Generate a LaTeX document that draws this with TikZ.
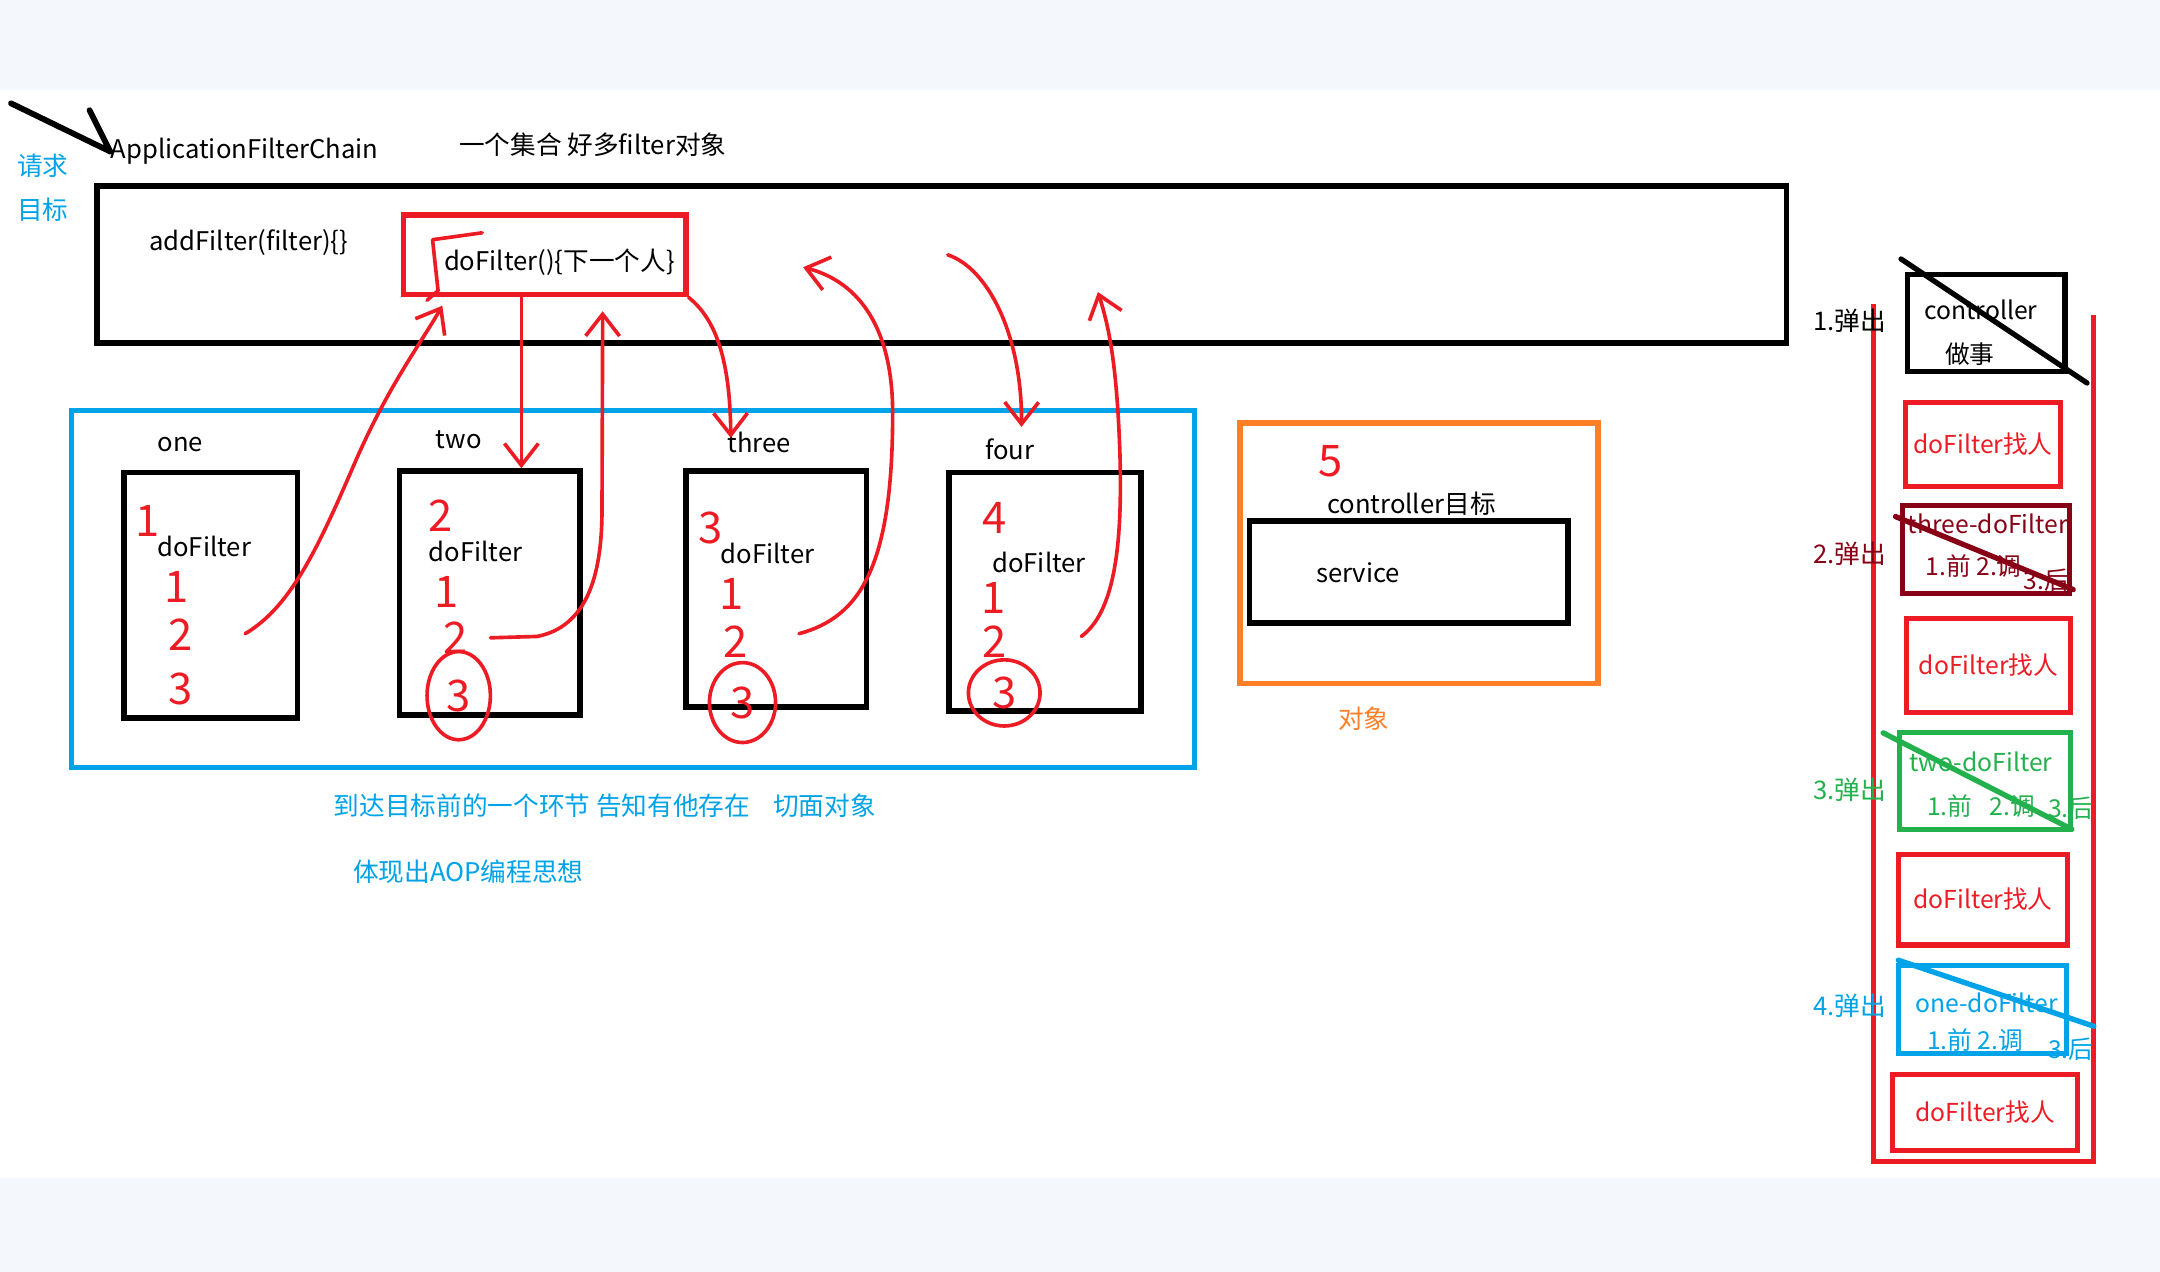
\documentclass[tikz,border=0pt]{standalone}
\usepackage{fontspec}
\setmainfont{Noto Sans CJK SC}
\usetikzlibrary{positioning, arrows.meta, calc}
\definecolor{paintred}{RGB}{237,28,36}
\definecolor{paintblue}{RGB}{0,162,232}
\definecolor{paintorange}{RGB}{255,127,39}
\definecolor{paintgreen}{RGB}{34,177,76}
\definecolor{paintdark}{RGB}{136,0,21}
\definecolor{bandgray}{RGB}{244,247,251}

\begin{document}
\begin{tikzpicture}[x=0.02cm, y=-0.02cm,
    every node/.style={font=\fontsize{10.6}{12}\selectfont, inner sep=0pt},
    blkbox/.style={draw=black, line width=2.4pt},
    stackbox/.style={line width=2.1pt, font=\fontsize{10.2}{12}\selectfont},
    hand/.style={paintred, line width=1.5pt, line cap=round, line join=round},
    handarrow/.style={hand, -{Straight Barb[length=9pt, width=14pt]}},
    handnum/.style={text=paintred, font=\fontsize{18}{18}\selectfont},
    strike/.style={line width=2.2pt, line cap=round}]

    % page bands
    \fill[bandgray] (0,0) rectangle (1568,65);
    \fill[bandgray] (0,855) rectangle (1568,923);
    \useasboundingbox (0,0) rectangle (1568,923);

    % request arrow and titles
    \node[anchor=west] (chainlbl) at (80,110) {ApplicationFilterChain};
    \node[anchor=west] (setlbl) at (333,105) {一个集合 好多filter对象};
    \node[text=paintblue] (reqlbl) at (31,120) {请求};
    \node[text=paintblue] (goallbl) at (31,152) {目标};
    \coordinate (reqstart) at (8,75);
    \coordinate (reqbarb) at (65,80);
    \draw[line width=2.4pt, line cap=round] (reqstart) -- (chainlbl.west) (reqbarb) -- (chainlbl.west);

    % the chain
    \node[blkbox, minimum width=24.54cm, minimum height=2.28cm] (chain) at (683.5,192) {};
    \node[anchor=west] (addlbl) at (108,176) {addFilter(filter)\{\}};
    \node[draw=paintred, line width=2.2pt, minimum width=4.1cm, minimum height=1.16cm] (chainfn) at (395.5,185) {};
    \node[anchor=west] (chainfnlbl) at (322,190) {doFilter()\{下一个人\}};
    \draw[hand] (350,169) -- (314,174) -- (318,211) -- (310,218);

    % filters
    \node[draw=paintblue, line width=2.2pt, minimum width=16.3cm, minimum height=5.18cm] (aop) at (459.5,427.5) {};
    \foreach \name/\cx/\cy/\w/\h in {one/153/432/2.52/3.56, two/355.5/430.5/2.62/3.54,
        three/563.5/427.5/2.62/3.42, four/758.5/429.5/2.78/3.46}
      \node[blkbox, minimum width=\w cm, minimum height=\h cm] (\name) at (\cx,\cy) {};
    \node (onelbl) at (131,323) {one};
    \node (twolbl) at (333,319) {two};
    \node (threelbl) at (551,321) {three};
    \node (fourlbl) at (733,326) {four};
    \node[anchor=west] (onefn) at (114,397) {doFilter};
    \node[anchor=west] (twofn) at (311,400) {doFilter};
    \node[anchor=west] (threefn) at (523,402) {doFilter};
    \node[anchor=west] (fourfn) at (720,408) {doFilter};

    % hand numbers
    \foreach \n/\px/\py [count=\i] in {1/107/378, 1/128/426, 2/131/461, 3/131/500,
        2/320/374, 1/324/430, 2/331/463, 3/333/505,
        3/516/383, 1/531/431, 2/534/466, 3/539/510,
        4/722/376, 1/721/434, 2/722/466, 3/729/503, 5/966/335}
      \node[handnum] (num\i) at (\px,\py) {\n};
    \draw[hand] (num8) ellipse [x radius=23, y radius=32];
    \draw[hand] (num12) ellipse [x radius=24, y radius=29];
    \draw[hand] (num16) ellipse [x radius=26, y radius=24];

    % calls along the chain
    \coordinate (oneout) at (178,460);
    \coordinate (twoout) at (356,463);
    \coordinate (threeout) at (580,460);
    \coordinate (threeback) at (583,194);
    \coordinate (fourin) at (688,185);
    \coordinate (fourout) at (785,462);
    \coordinate (fourback) at (797,212);
    \draw[handarrow] (oneout) .. controls (212,440) and (232,395) .. (258,335)
      .. controls (282,280) and (305,250) .. ($(chainfn.south west)+(30,6)$);
    \draw[handarrow] ($(chainfn.south)+(-17,-2)$) -- ($(two.north)+(23,0)$);
    \draw[handarrow] (twoout) -- (390,462) .. controls (425,455) and (437,420) .. (437,370)
      -- ($(chainfn.south)+(42,10)$);
    \draw[handarrow] (chainfn.south east) .. controls (520,232) and (530,262) .. ($(three.north)+(-33,-22)$);
    \draw[handarrow] (threeout) .. controls (625,448) and (648,410) .. (648,300)
      .. controls (648,240) and (625,205) .. (threeback);
    \draw[handarrow] (fourin) .. controls (718,195) and (742,245) .. ($(four.north)+(-17,-31)$);
    \draw[handarrow] (fourout) .. controls (808,445) and (815,400) .. (813,330)
      .. controls (811,270) and (806,240) .. (fourback);

    % target
    \node[draw=paintorange, line width=2.2pt, minimum width=5.2cm, minimum height=3.78cm] (target) at (1030,401.5) {};
    \node[blkbox, minimum width=4.62cm, minimum height=1.48cm] (service) at (1022.5,415) {};
    \node[anchor=west] (ctrllbl) at (963,366) {controller目标};
    \node[anchor=west] (svclbl) at (955,416) {service};
    \node[text=paintorange] (objlbl) at (990,522) {对象};

    % notes
    \node[anchor=west, text=paintblue] (note1) at (242,585) {到达目标前的一个环节 告知有他存在\hspace{0.9em}切面对象};
    \node[anchor=west, text=paintblue] (note2) at (256,633) {体现出AOP编程思想};

    % call stack
    \draw[paintred, line width=2pt] (1360,221) -- (1360,843) -- (1520,843) -- (1520,229);
    \node[stackbox, draw=black, minimum width=2.28cm, minimum height=1.42cm] (sctrl) at (1442,234.5) {};
    \node[stackbox, draw=paintred, text=paintred, minimum width=2.26cm, minimum height=1.22cm] (sfind1) at (1439.5,322.5) {doFilter找人};
    \node[stackbox, draw=paintdark, minimum width=2.42cm, minimum height=1.28cm] (sthree) at (1441.5,399) {};
    \node[stackbox, draw=paintred, text=paintred, minimum width=2.38cm, minimum height=1.36cm] (sfind2) at (1443.5,483) {doFilter找人};
    \node[stackbox, draw=paintgreen, minimum width=2.48cm, minimum height=1.4cm] (stwo) at (1441,567) {};
    \node[stackbox, draw=paintred, text=paintred, minimum width=2.46cm, minimum height=1.32cm] (sfind3) at (1439.5,653) {doFilter找人};
    \node[stackbox, draw=paintblue, minimum width=2.44cm, minimum height=1.28cm] (sone) at (1439,733) {};
    \node[stackbox, draw=paintred, text=paintred, minimum width=2.68cm, minimum height=1.1cm] (sfind4) at (1441,807.5) {doFilter找人};

    \node[stackbox, draw=none] (sctrl1) at (1438,225) {controller};
    \node[stackbox, draw=none] (sctrl2) at (1430,257) {做事};
    \node[stackbox, draw=none, text=paintdark] (sthree1) at (1443,380) {three-doFilter};
    \node[stackbox, draw=none, anchor=west, text=paintdark] (sthree2) at (1396,411) {1.前 2.调};
    \node[stackbox, draw=none, anchor=west, text=paintdark] (sthree3) at (1467,421) {3.后};
    \node[stackbox, draw=none, text=paintgreen] (stwo1) at (1438,553) {two-doFilter};
    \node[stackbox, draw=none, anchor=west, text=paintgreen] (stwo2) at (1397,585) {1.前\hspace{0.7em}2.调};
    \node[stackbox, draw=none, anchor=west, text=paintgreen] (stwo3) at (1485,587) {3.后};
    \node[stackbox, draw=none, text=paintblue] (sone1) at (1442,728) {one-doFilter};
    \node[stackbox, draw=none, anchor=west, text=paintblue] (sone2) at (1397,755) {1.前 2.调};
    \node[stackbox, draw=none, anchor=west, text=paintblue] (sone3) at (1485,762) {3.后};

    \node[anchor=west] (pop1) at (1316,233) {1.弹出};
    \node[anchor=west, text=paintdark] (pop2) at (1316,402) {2.弹出};
    \node[anchor=west, text=paintgreen] (pop3) at (1316,573) {3.弹出};
    \node[anchor=west, text=paintblue] (pop4) at (1316,730) {4.弹出};

    % popped frames
    \draw[strike] (1380,188) -- (1515,278);
    \draw[strike, paintdark] (1376,375) -- (1505,428);
    \draw[strike, paintgreen] (1367,532) -- (1504,602);
    \draw[strike, paintblue] (1378,697) -- (1520,745);
\end{tikzpicture}
\end{document}
